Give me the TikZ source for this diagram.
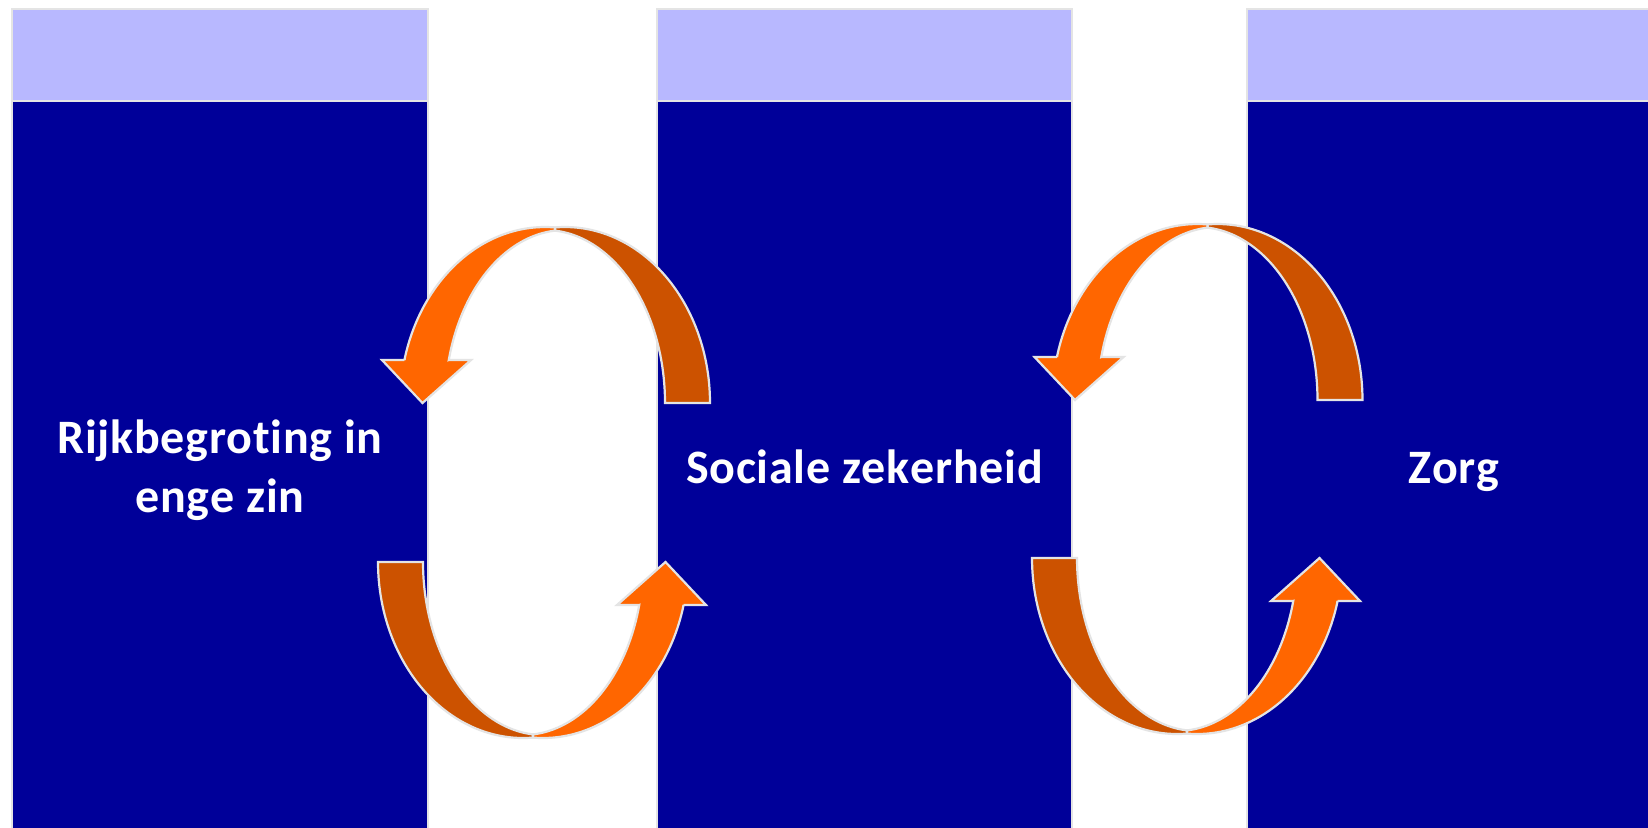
\documentclass[tikz,border=0pt]{standalone}
\usepackage{fontspec}
\setmainfont[RawFeature={-liga},Kerning=Off,LetterSpace=1.5]{Carlito}
\definecolor{hdr}{RGB}{184,184,255}
\definecolor{bodyblue}{RGB}{0,0,153}
\definecolor{orlight}{RGB}{255,102,0}
\definecolor{ordark}{RGB}{204,82,0}
\definecolor{edgegray}{RGB}{228,228,228}
\newcommand{\arrowpair}{%
  \filldraw[banddark]
    plot[domain=93.95:0,samples=60,variable=\t] ({10+145*cos(\t)},{176*sin(\t)})
    -- plot[domain=0:85.22,samples=60,variable=\t] ({-10+120*cos(\t)},{173*sin(\t)})
    -- cycle;
  \filldraw[bandlight]
    (-150.6,43) -- (-173,43) -- (-132.5,0) -- (-84,43) -- (-106.2,43)
    -- plot[domain=165.61:94.78,samples=60,variable=\t] ({10+120*cos(\t)},{173*sin(\t)})
    -- plot[domain=86.05:165.86,samples=60,variable=\t] ({-10+145*cos(\t)},{176*sin(\t)})
    -- cycle;
}
\begin{document}
\begin{tikzpicture}[x=0.5pt,y=-0.5pt,
  colhead/.style={fill=hdr,draw=edgegray,line width=1pt},
  colbody/.style={fill=bodyblue,draw=edgegray,line width=1pt},
  bandlight/.style={fill=orlight,draw=edgegray,line width=1.1pt,line join=miter},
  banddark/.style={fill=ordark,draw=edgegray,line width=1.1pt,line join=miter},
  lbl/.style={text=white,font=\fontsize{24}{29.5}\selectfont\bfseries,align=center,inner sep=0pt}]
\clip (0,0) rectangle (1648,827);
\fill[white] (0,0) rectangle (1648,827);
% columns
\draw[colbody] (12,101) rectangle (428,850);
\draw[colhead] (12,9) rectangle (428,101);
\draw[colbody] (657,101) rectangle (1072,850);
\draw[colhead] (657,9) rectangle (1072,101);
\draw[colbody] (1247,101) rectangle (1670,850);
\draw[colhead] (1247,9) rectangle (1670,101);
% arrow pairs
\begin{scope}[shift={(555,403)},yscale=-1] \arrowpair \end{scope}
\begin{scope}[shift={(533,562)},xscale=-1] \arrowpair \end{scope}
\begin{scope}[shift={(1207.5,400)},yscale=-1] \arrowpair \end{scope}
\begin{scope}[shift={(1187,558)},xscale=-1] \arrowpair \end{scope}
% labels
\node[lbl] (t1) at (220,470) {Rijkbegroting in\\enge zin};
\node[lbl,anchor=base] (t2) at (864.5,483) {Sociale zekerheid};
\node[lbl,anchor=base] (t3) at (1454,483) {Zorg};
\end{tikzpicture}
\end{document}
